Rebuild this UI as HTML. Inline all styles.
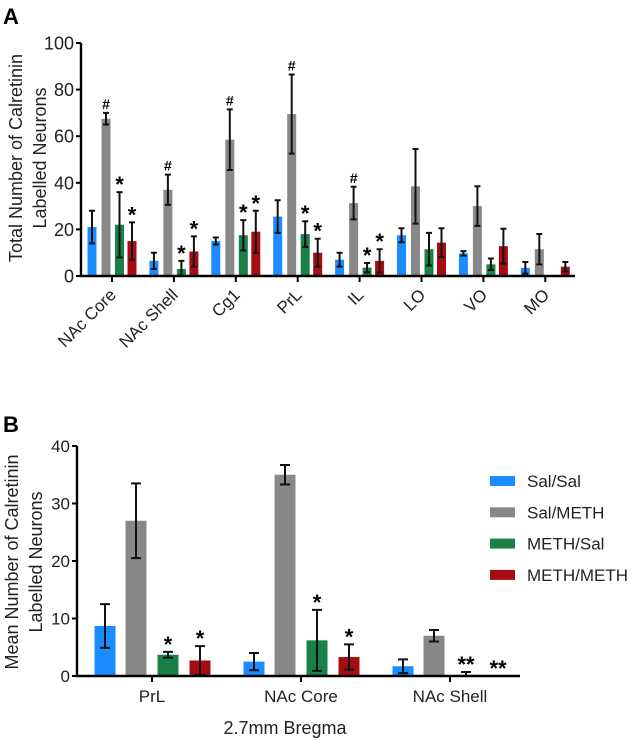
<!DOCTYPE html>
<html><head><meta charset="utf-8"><style>
body{margin:0;background:#fff;}
svg{display:block;font-family:"Liberation Sans",Arial,sans-serif;}
</style></head><body>
<svg id="chart" width="637" height="740" viewBox="0 0 637 740">
<text x="3" y="24" font-size="22" font-weight="bold">A</text>
<text x="3" y="432" font-size="22" font-weight="bold">B</text>
<g id="A"></g>
<g id="B"></g>
</svg>
<script>
const colors=["#1a8cff","#888888","#198048","#a50d12"];
const seriesNames=["Sal/Sal","Sal/METH","METH/Sal","METH/METH"];
// Chart A data
const catsA=["NAc Core","NAc Shell","Cg1","PrL","IL","LO","VO","MO"];
const salSalA=[21,6.5,15,25.5,7,17.5,9.7,3.5];
const salMethA=[67.5,37,58.5,69.5,31.3,38.5,30,11.5];
const methSalA=[22,3,17.5,18,3.6,11.5,5,0];
const methMethA=[15,10.5,19,10,6.5,14.3,12.8,4];
const salSalErrA=[7,3.5,1.5,7,3,3,1,2.5];
const salMethErrA=[2.5,6.5,13,17,7,16,8.5,6.5];
const methSalErrA=[14,3.5,6.5,5.5,2,7,2.5,0];
const methMethErrA=[8,6.5,9,6,5,6.2,7.5,2];
const marksA=[["","#","*","*"],["","#","*","*"],["","#","*","*"],["","#","*","*"],["","#","*","*"],["","","",""],["","","",""],["","","",""]];
const ticksA=[0,20,40,60,80,100];
// Chart B data
const catsB=["PrL","NAc Core","NAc Shell"];
const salSalB=[8.7,2.5,1.7];
const salMethB=[27,35,7];
const methSalB=[3.7,6.2,0.2];
const methMethB=[2.7,3.3,0];
const salSalErrB=[3.8,1.5,1.2];
const salMethErrB=[6.5,1.7,1];
const methSalErrB=[0.5,5.3,0.5];
const methMethErrB=[2.5,2.2,0];
const marksB=[["","","*","*"],["","","*","*"],["","","**","**"]];
const ticksB=[0,10,20,30,40];

const NS="http://www.w3.org/2000/svg";
function mk(p,t,a,txt){const e=document.createElementNS(NS,t);for(const k in a)e.setAttribute(k,a[k]);if(txt!==undefined)e.textContent=txt;p.appendChild(e);return e;}

function draw(g,cfg){
  const {cats,vals,errs,marks,ticks,x0,x1,y0,ymax,ytop,first,step,offs,bw,fs,capw,markfs}=cfg;
  const ys=v=>y0-(y0-ytop)*v/ymax;
  const xs=i=>first+step*i;
  cats.forEach((c,i)=>{
    vals.forEach((s,k)=>{
      const v=s[i],cx=xs(i)+offs[k];
      const r=mk(g,"rect",{x:cx-bw/2,y:ys(v),width:bw,height:y0-ys(v),fill:colors[k]});
      
      
      const e=errs[k][i];
      if(e>0){
        const el=mk(g,"path",{d:`M${cx},${ys(v+e)}V${ys(Math.max(v-e,0))}M${cx-capw},${ys(v+e)}h${2*capw}M${cx-capw},${ys(Math.max(v-e,0))}h${2*capw}`,stroke:"#111","stroke-width":2,fill:"none"});
        
        
      }
      const m=marks[i][k];
      if(m){
        const t=mk(g,"text",{x:cx,y:ys(v+e)-4+(m==="#"?0:4),"text-anchor":"middle","font-size":m==="#"?14:markfs,"font-weight":"bold"},m);
        
        
      }
    });
  });
  mk(g,"path",{d:`M${x0},${ytop}V${y0}H${x1}`,stroke:"#000","stroke-width":2.4,fill:"none"});
  ticks.forEach(t=>{
    mk(g,"line",{x1:x0-5,x2:x0,y1:ys(t),y2:ys(t),stroke:"#000","stroke-width":2});
    const l=mk(g,"text",{x:x0-7,y:ys(t)+fs*0.36,"text-anchor":"end","font-size":fs,fill:"#222"},t);
    
    
  });
  cats.forEach((c,i)=>mk(g,"line",{x1:xs(i),x2:xs(i),y1:y0,y2:y0+6,stroke:"#000","stroke-width":2}));
  return {xs,ys};
}

const gA=document.getElementById("A");
const a=draw(gA,{cats:catsA,vals:[salSalA,salMethA,methSalA,methMethA],errs:[salSalErrA,salMethErrA,methSalErrA,methMethErrA],marks:marksA,ticks:ticksA,
 x0:81,x1:575,y0:276,ymax:100,ytop:43,first:112,step:61.9,offs:[-20,-6,7.5,20],bw:9,fs:18,capw:3,markfs:22});
catsA.forEach((c,i)=>{
  const x=a.xs(i)+5,y=296;
  const t=mk(gA,"text",{x:x,y:y,"text-anchor":"end","font-size":17,fill:"#222",transform:`rotate(-45 ${x} ${y})`},c);
  
  
});
const ya=mk(gA,"text",{"text-anchor":"middle","font-size":18,fill:"#222",transform:"translate(22 158) rotate(-90)"},"Total Number of Calretinin");


mk(gA,"text",{"text-anchor":"middle","font-size":18,fill:"#222",transform:"translate(46 158) rotate(-90)"},"Labelled Neurons");

const gB=document.getElementById("B");
const b=draw(gB,{cats:catsB,vals:[salSalB,salMethB,methSalB,methMethB],errs:[salSalErrB,salMethErrB,methSalErrB,methMethErrB],marks:marksB,ticks:ticksB,
 x0:77,x1:520,y0:676,ymax:40,ytop:446,first:152,step:149,offs:[-47,-16,16,48],bw:21,fs:17,capw:5,markfs:22});
catsB.forEach((c,i)=>{
  const t=mk(gB,"text",{x:b.xs(i),y:702,"text-anchor":"middle","font-size":17,fill:"#222"},c);
  
  
});
const xb=mk(gB,"text",{x:285,y:734,"text-anchor":"middle","font-size":18,fill:"#222"},"2.7mm Bregma");


const yb=mk(gB,"text",{"text-anchor":"middle","font-size":18,fill:"#222",transform:"translate(18 562) rotate(-90)"},"Mean Number of Calretinin");


mk(gB,"text",{"text-anchor":"middle","font-size":18,fill:"#222",transform:"translate(42 562) rotate(-90)"},"Labelled Neurons");
seriesNames.forEach((n,k)=>{
  const y=481+31.3*k;
  const le=mk(gB,"g",{});
  
  
  mk(le,"rect",{x:490,y:y-5,width:25,height:10,fill:colors[k]});
  mk(le,"text",{x:527,y:y+6,"font-size":17,fill:"#222"},n);
});
</script>
</body></html>
